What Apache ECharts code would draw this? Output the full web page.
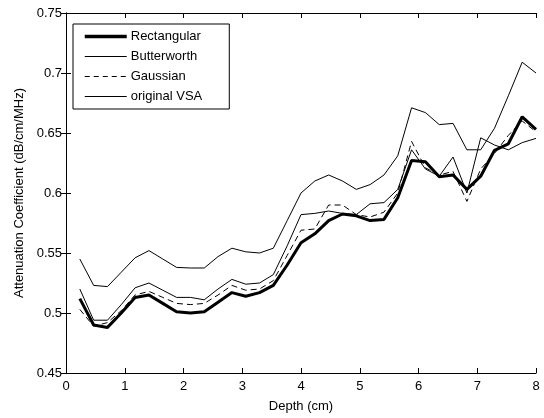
<!DOCTYPE html>
<html>
<head>
<meta charset="utf-8">
<script src="https://cdn.jsdelivr.net/npm/echarts@6/dist/echarts.min.js"></script>
<style>html,body{margin:0;padding:0;background:#fff}#c{width:544px;height:418px}</style>
</head>
<body>
<div id="c"></div>
<script>
const depth = [0.235,0.471,0.706,0.941,1.176,1.412,1.647,1.882,2.118,2.353,2.588,2.824,3.059,3.294,3.529,3.765,4.000,4.235,4.471,4.706,4.941,5.176,5.412,5.647,5.882,6.118,6.353,6.588,6.824,7.059,7.294,7.529,7.765,8.000];
const rectangular = [0.512,0.490,0.488,0.500,0.513,0.515,0.508,0.501,0.500,0.501,0.509,0.517,0.514,0.517,0.523,0.540,0.5585,0.566,0.577,0.5825,0.581,0.577,0.578,0.596,0.627,0.626,0.6135,0.615,0.603,0.614,0.6356,0.641,0.6635,0.653];
const butterworth = [0.520,0.494,0.494,0.507,0.521,0.525,0.519,0.513,0.513,0.511,0.520,0.528,0.524,0.525,0.532,0.556,0.582,0.583,0.585,0.583,0.582,0.591,0.592,0.603,0.636,0.620,0.614,0.630,0.600,0.646,0.640,0.636,0.642,0.6455];
const gaussian = [0.503,0.489,0.492,0.502,0.515,0.518,0.513,0.508,0.507,0.508,0.515,0.523,0.519,0.520,0.527,0.548,0.569,0.570,0.590,0.590,0.582,0.580,0.584,0.600,0.643,0.621,0.615,0.618,0.593,0.620,0.633,0.648,0.660,0.651];
const originalVSA = [0.545,0.523,0.522,0.534,0.546,0.552,0.545,0.538,0.5375,0.5375,0.547,0.554,0.551,0.550,0.554,0.577,0.600,0.610,0.615,0.610,0.603,0.607,0.615,0.631,0.671,0.667,0.657,0.658,0.636,0.636,0.654,0.681,0.709,0.700];
const seriesNames = ['Rectangular','Butterworth','Gaussian','original VSA'];

const pair = arr => depth.map((d,i)=>[d,arr[i]]);
const font = 'Liberation Sans, Arial, sans-serif';
const chart = echarts.init(document.getElementById('c'), null, {renderer:'canvas'});
const axisCommon = {
  axisLine:{show:true,lineStyle:{color:'#000',width:1}},
  axisTick:{show:true,inside:true,length:5,lineStyle:{color:'#000'}},
  splitLine:{show:false}
};
const legendWidths = [3.5,1,1,1];
const legendTypes = ['solid','solid',[5,4],'solid'];
chart.setOption({
  animation:false,
  backgroundColor:'#fff',
  grid:{left:66,right:8,top:13,bottom:43,containLabel:false},
  legend:{
    orient:'vertical',left:73,top:24,
    data:seriesNames.map((n,i)=>({name:n,lineStyle:{width:legendWidths[i],type:legendTypes[i],color:'#000'}})),
    itemWidth:42,itemHeight:14,itemGap:7,
    padding:[6,27,6,10],
    borderColor:'#000',borderWidth:1,backgroundColor:'#fff',
    itemStyle:{opacity:0,borderWidth:0},
    textStyle:{fontFamily:font,fontSize:13,color:'#000',padding:[0,0,0,-1]}
  },
  xAxis:[
    Object.assign({type:'value',min:0,max:8,interval:1,position:'bottom',
      name:'Depth (cm)',nameLocation:'middle',nameGap:27,
      nameTextStyle:{fontFamily:font,fontSize:13,color:'#000'},
      axisLabel:{fontFamily:font,fontSize:13,color:'#000',margin:7}},axisCommon),
    Object.assign({type:'value',min:0,max:8,interval:1,position:'top',axisLabel:{show:false}},axisCommon)
  ],
  yAxis:[
    Object.assign({type:'value',min:0.45,max:0.75,interval:0.05,position:'left',
      name:'Attenuation Coefficient (dB/cm/MHz)',nameLocation:'middle',nameGap:40,
      nameTextStyle:{fontFamily:font,fontSize:13,color:'#000'},
      axisLabel:{fontFamily:font,fontSize:13,color:'#000',margin:4,
        formatter:v=>{const s=(Math.round(v*100)/100).toString();return s;}}},axisCommon),
    Object.assign({type:'value',min:0.45,max:0.75,interval:0.05,position:'right',axisLabel:{show:false}},axisCommon)
  ],
  series:[
    {name:'Rectangular',type:'line',data:pair(rectangular),symbol:'none',lineStyle:{color:'#000',width:3},itemStyle:{color:'#000'},z:5},
    {name:'Butterworth',type:'line',data:pair(butterworth),symbol:'none',lineStyle:{color:'#000',width:1},itemStyle:{color:'#000'}},
    {name:'Gaussian',type:'line',data:pair(gaussian),symbol:'none',lineStyle:{color:'#000',width:1,type:[6,4]},itemStyle:{color:'#000'}},
    {name:'original VSA',type:'line',data:pair(originalVSA),symbol:'none',lineStyle:{color:'#000',width:1},itemStyle:{color:'#000'}}
  ]
});
</script>
</body>
</html>
